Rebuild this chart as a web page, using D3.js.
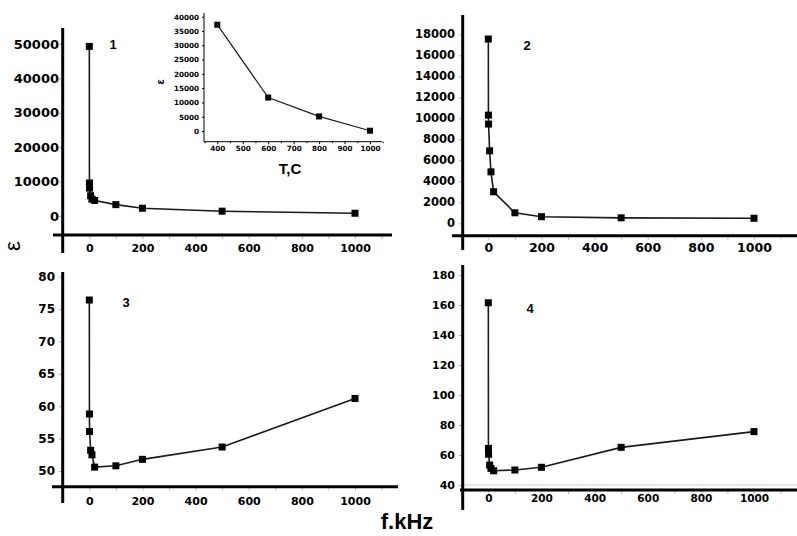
<!DOCTYPE html>
<html>
<head>
<meta charset="utf-8">
<script src="https://cdn.jsdelivr.net/npm/d3@7"></script>
<style>
  body { margin: 0; background: #fff; }
  svg { display: block; }
</style>
</head>
<body>
<svg id="chart" width="797" height="536"></svg>
<script>
// frequencies, kHz
const freq = [0.1, 0.5, 1, 5, 10, 20, 100, 200, 500, 1000];
const eps1 = [49300, 9600, 8100, 5900, 4900, 4500, 3300, 2250, 1400, 800];
const eps2 = [17550, 10300, 9450, 6900, 4900, 3000, 1000, 630, 520, 480];
const eps3 = [76.4, 58.8, 56.1, 53.2, 52.5, 50.6, 50.8, 51.8, 53.7, 61.2];
const eps4 = [161.5, 64.4, 60.5, 53.3, 51.1, 49.5, 50, 51.8, 65.1, 75.6];

const yTicks1 = [0, 10000, 20000, 30000, 40000, 50000];
const yTicks2 = [0, 2000, 4000, 6000, 8000, 10000, 12000, 14000, 16000, 18000];
const yTicks3 = [50, 55, 60, 65, 70, 75, 80];
const yTicks4 = [40, 60, 80, 100, 120, 140, 160, 180];
const xTicks = [0, 200, 400, 600, 800, 1000];
const xMinor = [0, 100, 200, 300, 400, 500, 600, 700, 800, 900, 1000, 1100];

// inset: epsilon vs temperature
const insetT = [400, 600, 800, 1000];
const insetEps = [37200, 11700, 5100, 100];
const insetXTicks = [400, 500, 600, 700, 800, 900, 1000];
const insetXMinor = [350, 450, 550, 650, 750, 850, 950, 1050];
const insetYTicks = [0, 5000, 10000, 15000, 20000, 25000, 30000, 35000, 40000];

const svg = d3.select("#chart");
const tickFont = "'DejaVu Sans', Verdana, sans-serif";
const headFont = "'Liberation Sans', Arial, sans-serif";
const fmt = d3.format("d");

const panels = [
  { vals: eps1, yTicks: yTicks1, yDom: [0, 50000], yRange: [216, 44], xRange: [89.3, 355],
    axisX: 62.7, top: 28, bottom: 253, baseY: 235, baseL: 53, baseR: 392,
    labR: 59, xLabY: 248, yFont: 13, xFont: 11, num: "1", numX: 113, numY: 44 },
  { vals: eps2, yTicks: yTicks2, yDom: [0, 18000], yRange: [223.3, 34.3], xRange: [488.3, 754],
    axisX: 462.7, top: 15, bottom: 250, baseY: 235.7, baseL: 452, baseR: 797,
    labR: 455, xLabY: 248, yFont: 11.5, xFont: 12.5, num: "2", numX: 527, numY: 45 },
  { vals: eps3, yTicks: yTicks3, yDom: [50, 80], yRange: [471, 276.7], xRange: [89.3, 355],
    axisX: 62.7, top: 272, bottom: 503, baseY: 486.7, baseL: 52, baseR: 398,
    labR: 55, xLabY: 500.7, yFont: 12, xFont: 11, num: "3", numX: 126, numY: 302 },
  { vals: eps4, yTicks: yTicks4, yDom: [40, 180], yRange: [485, 275], xRange: [488.3, 754],
    axisX: 462.7, top: 265, bottom: 510, baseY: 490, baseL: 460, baseR: 797,
    labR: 455, xLabY: 498.3, yFont: 11, xFont: 10.5, num: "4", numX: 530, numY: 308, faint: true }
];

const line = (x, y) => d3.line().x((d, i) => x(freq[i])).y(d => y(d));

panels.forEach(p => {
  const g = svg.append("g");
  const x = d3.scaleLinear().domain([0, 1000]).range(p.xRange);
  const y = d3.scaleLinear().domain(p.yDom).range(p.yRange);

  // y axis ticks + labels
  const ya = g.append("g")
    .attr("transform", `translate(${p.axisX},0)`)
    .call(d3.axisLeft(y).tickValues(p.yTicks).tickSize(4)
      .tickPadding(p.axisX - p.labR - 4).tickFormat(fmt));
  ya.select(".domain").remove();
  ya.selectAll("line").attr("stroke", "#bbb");
  ya.selectAll("text").attr("font-family", tickFont).attr("font-weight", "bold")
    .attr("font-size", p.yFont).attr("fill", "#000");

  // x axis minor ticks
  const xm = g.append("g")
    .attr("transform", `translate(0,${p.baseY + 1})`)
    .call(d3.axisBottom(x).tickValues(xMinor).tickSize(3).tickFormat(""));
  xm.select(".domain").remove();
  xm.selectAll("line").attr("stroke", "#bbb");

  // x axis labels
  const xa = g.append("g")
    .attr("transform", `translate(0,${p.baseY})`)
    .call(d3.axisBottom(x).tickValues(xTicks).tickSize(0).tickFormat(fmt));
  xa.select(".domain").remove();
  xa.selectAll("text").attr("y", p.xLabY - p.baseY).attr("dy", "0.36em")
    .attr("font-family", tickFont).attr("font-weight", "bold")
    .attr("font-size", p.xFont).attr("fill", "#000");

  if (p.faint) {
    g.append("line").attr("x1", p.axisX).attr("x2", p.baseR)
      .attr("y1", y(p.yDom[0])).attr("y2", y(p.yDom[0]))
      .attr("stroke", "#ccc").attr("stroke-width", 1);
  }

  // thick axis lines
  g.append("line").attr("x1", p.axisX).attr("x2", p.axisX)
    .attr("y1", p.top).attr("y2", p.bottom)
    .attr("stroke", "#000").attr("stroke-width", 3);
  g.append("line").attr("x1", p.baseL).attr("x2", p.baseR)
    .attr("y1", p.baseY).attr("y2", p.baseY)
    .attr("stroke", "#000").attr("stroke-width", 3);

  // data
  g.append("path").datum(p.vals)
    .attr("d", line(x, y))
    .attr("fill", "none").attr("stroke", "#1a1a1a").attr("stroke-width", 1.6);
  g.selectAll("rect.pt").data(p.vals).enter().append("rect")
    .attr("class", "pt")
    .attr("x", (d, i) => x(freq[i]) - 3.5).attr("y", d => y(d) - 3.5)
    .attr("width", 7).attr("height", 7).attr("fill", "#000");

  g.append("text").attr("x", p.numX).attr("y", p.numY).attr("dy", "0.36em")
    .attr("text-anchor", "middle").attr("font-family", headFont)
    .attr("font-weight", "bold").attr("font-size", 13).text(p.num);
});

// inset
{
  const g = svg.append("g");
  const x = d3.scaleLinear().domain([400, 1000]).range([217.3, 370]);
  const y = d3.scaleLinear().domain([0, 40000]).range([131, 16.7]);

  const ya = g.append("g").attr("transform", "translate(204,0)")
    .call(d3.axisLeft(y).tickValues(insetYTicks).tickSize(2).tickPadding(3).tickFormat(fmt));
  ya.select(".domain").remove();
  ya.selectAll("line").attr("stroke", "#000");
  ya.selectAll("text").attr("font-family", tickFont).attr("font-weight", "bold")
    .attr("font-size", 7.2).attr("fill", "#000");

  const xm = g.append("g").attr("transform", "translate(0,141.7)")
    .call(d3.axisBottom(x).tickValues(insetXMinor).tickSize(1.5).tickFormat(""));
  xm.select(".domain").remove();
  xm.selectAll("line").attr("stroke", "#000");

  const xa = g.append("g").attr("transform", "translate(0,141.7)")
    .call(d3.axisBottom(x).tickValues(insetXTicks).tickSize(2.5).tickFormat(fmt));
  xa.select(".domain").remove();
  xa.selectAll("line").attr("stroke", "#000");
  xa.selectAll("text").attr("y", 148.3 - 141.7).attr("dy", "0.36em")
    .attr("font-family", tickFont).attr("font-weight", "bold")
    .attr("font-size", 7.2).attr("fill", "#000");

  g.append("line").attr("x1", 204).attr("x2", 204).attr("y1", 13).attr("y2", 141.7)
    .attr("stroke", "#000").attr("stroke-width", 1);
  g.append("line").attr("x1", 204).attr("x2", 382).attr("y1", 141.7).attr("y2", 141.7)
    .attr("stroke", "#000").attr("stroke-width", 1);

  g.append("path").datum(insetEps)
    .attr("d", d3.line().x((d, i) => x(insetT[i])).y(d => y(d)))
    .attr("fill", "none").attr("stroke", "#1a1a1a").attr("stroke-width", 1.2);
  g.selectAll("rect").data(insetEps).enter().append("rect")
    .attr("x", (d, i) => x(insetT[i]) - 3).attr("y", d => y(d) - 3)
    .attr("width", 6).attr("height", 6).attr("fill", "#000");

  g.append("text").attr("transform", "translate(160,82) rotate(-90)")
    .attr("dy", "0.36em").attr("text-anchor", "middle")
    .attr("font-family", headFont).attr("font-weight", "bold").attr("font-size", 11)
    .text("ε");
  g.append("text").attr("x", 290).attr("y", 169).attr("dy", "0.36em")
    .attr("text-anchor", "middle").attr("font-family", headFont)
    .attr("font-weight", "bold").attr("font-size", 15).text("T,C");
}

// shared labels
svg.append("text").attr("transform", "translate(12,246) rotate(-90)")
  .attr("dy", "0.36em").attr("text-anchor", "middle")
  .attr("font-family", headFont).attr("font-size", 22).text("ε");
svg.append("text").attr("x", 407).attr("y", 529)
  .attr("text-anchor", "middle").attr("font-family", headFont)
  .attr("font-weight", "bold").attr("font-size", 22).text("f.kHz");
</script>
</body>
</html>
